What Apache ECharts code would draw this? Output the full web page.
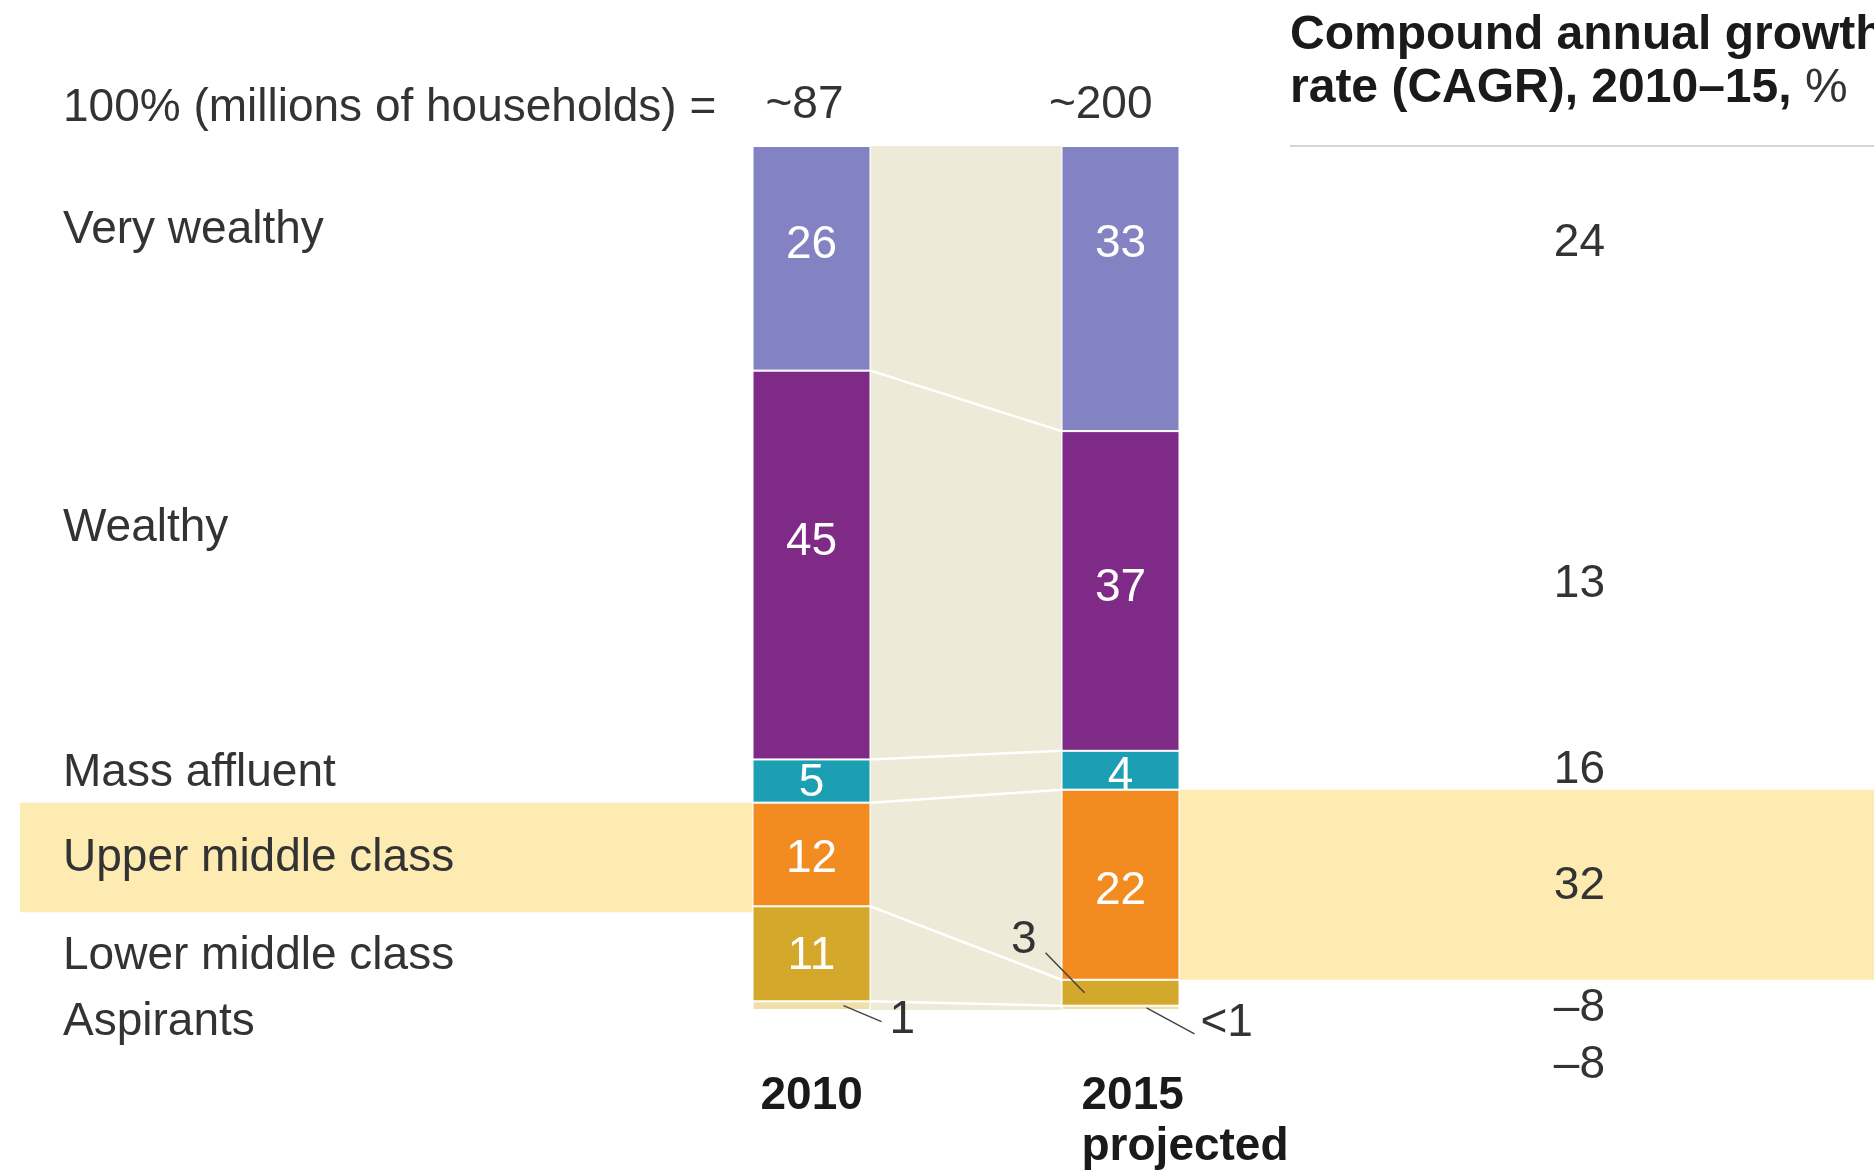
<!DOCTYPE html>
<html>
<head>
<meta charset="utf-8">
<style>
html, body { margin: 0; padding: 0; background: #fff; }
#chart { width: 1874px; height: 1172px; }
</style>
<script src="https://cdn.jsdelivr.net/npm/echarts@6/dist/echarts.min.js"></script>
</head>
<body>
<div id="chart"></div>
<script>
// 家庭财富分层 2010 vs 2015
var years = ['2010', '2015'];
var yearLabels = ['2010', '2015\nprojected'];
var totals = ['~87', '~200'];
var segments = ['Very wealthy', 'Wealthy', 'Mass affluent', 'Upper middle class', 'Lower middle class', 'Aspirants'];
var share2010 = [26, 45, 5, 12, 11, 1];
var share2015 = [33, 37, 4.5, 22, 3, 0.5];
var text2010 = ['26', '45', '5', '12', '11', '1'];
var text2015 = ['33', '37', '4', '22', '3', '<1'];
var cagr = [24, 13, 16, 32, -8, -8];

var myChart = echarts.init(document.getElementById('chart'));

var FONT = '"Liberation Sans", Arial, Helvetica, sans-serif';
var FS = 46;
var BAR_W = 118;
var TEXT_COLOR = '#333';
var colors = ['#8383c3', '#7f2a86', '#1d9fb3', '#f28b20', '#d4a82b', '#eee0a8'];
var HIGHLIGHT = 3; // Upper middle class row
var rowLabelNudge = [-28, -37, -8, 4, 2, 17];
var cagrNudge = [-45, -7, 0, 2, 16, 57];
var innerNudge = [[-13, -23, 2, 5, 2, 0], [-44, -3, 6, 7, 2, 0]];
var yearLabelNudge = [8, 20];
var CAGR_RIGHT = 1605;

var shares = [share2010, share2015];
var texts = [text2010, text2015];

function cumulative(arr) {
    var s = 0, out = [0];
    arr.forEach(function (v) { s += v; out.push(s); });
    return out;
}
var cums = shares.map(cumulative);

// callouts for the thin segments: anchor offset from bar centre, leader vector, text offset
var callouts = [
    { year: 0, seg: 5, ax: 32, dx: 38, dy: 16, tx: 8, ty: -1, align: 'left' },
    { year: 1, seg: 4, ax: -36, dx: -39, dy: -40, tx: -9, ty: -12, align: 'right' },
    { year: 1, seg: 5, ax: 26, dx: 48, dy: 26, tx: 6, ty: -11, align: 'left' }
];

function edges(api, yi) {
    var cx = api.coord([yi, 0])[0];
    return [cx - BAR_W / 2, cx + BAR_W / 2];
}
function yAt(api, v) {
    return api.coord([0, v])[1];
}
function txt(x, y, s, align, extra) {
    var style = {
        x: x, y: y, text: s, fill: TEXT_COLOR, fontSize: FS, fontFamily: FONT,
        align: align, verticalAlign: 'middle'
    };
    if (extra) for (var k in extra) style[k] = extra[k];
    return { type: 'text', style: style };
}
function fmtCagr(v) {
    return v < 0 ? '\u2013' + Math.abs(v) : String(v);
}

function renderBackdrop(params, api) {
    var e0 = edges(api, 0), e1 = edges(api, 1);
    var ch = [];
    var ly0 = yAt(api, cums[0][HIGHLIGHT]), ly1 = yAt(api, cums[0][HIGHLIGHT + 1]);
    ch.push({ type: 'rect', shape: { x: 20, y: ly0, width: e0[0] - 20, height: ly1 - ly0 + 6 }, style: { fill: '#fdebb2' } });
    var ry0 = yAt(api, cums[1][HIGHLIGHT]), ry1 = yAt(api, cums[1][HIGHLIGHT + 1]);
    ch.push({ type: 'rect', shape: { x: e1[1], y: ry0, width: api.getWidth() - e1[1], height: ry1 - ry0 }, style: { fill: '#fdebb2' } });
    var top = yAt(api, 0), bottom = yAt(api, 100);
    ch.push({ type: 'rect', shape: { x: e0[1], y: top, width: e1[0] - e0[1], height: bottom - top }, style: { fill: '#eeead8' } });
    for (var k = 1; k < segments.length; k++) {
        ch.push({
            type: 'line',
            shape: { x1: e0[1], y1: yAt(api, cums[0][k]), x2: e1[0], y2: yAt(api, cums[1][k]) },
            style: { stroke: '#fff', lineWidth: 2.5 }
        });
    }
    return { type: 'group', children: ch };
}

function renderAnnotations(params, api) {
    var e = [edges(api, 0), edges(api, 1)];
    var ch = [];
    segments.forEach(function (name, i) {
        var c0 = yAt(api, (cums[0][i] + cums[0][i + 1]) / 2);
        ch.push(txt(63, c0 + rowLabelNudge[i], name, 'left'));
        var c1 = yAt(api, (cums[1][i] + cums[1][i + 1]) / 2);
        ch.push(txt(CAGR_RIGHT, c1 + cagrNudge[i], fmtCagr(cagr[i]), 'right'));
    });
    var top = yAt(api, 0), bottom = yAt(api, 100);
    years.forEach(function (y, k) {
        ch.push(txt(e[k][1] - 27, top - 41, totals[k], 'right'));
        ch.push(txt(e[k][0] + yearLabelNudge[k], bottom + 61, yearLabels[k], 'left', {
            fontWeight: 'bold', verticalAlign: 'top', lineHeight: 51, fill: '#1a1a1a'
        }));
    });
    callouts.forEach(function (c) {
        var cx = api.coord([c.year, 0])[0] + c.ax;
        var cy = yAt(api, (cums[c.year][c.seg] + cums[c.year][c.seg + 1]) / 2);
        ch.push({
            type: 'line',
            shape: { x1: cx, y1: cy, x2: cx + c.dx, y2: cy + c.dy },
            style: { stroke: '#444', lineWidth: 1.5 }
        });
        ch.push(txt(cx + c.dx + c.tx, cy + c.dy + c.ty, texts[c.year][c.seg], c.align));
    });
    return { type: 'group', children: ch };
}

var barSeries = segments.map(function (name, i) {
    return {
        name: name,
        type: 'bar',
        stack: 'share',
        barWidth: BAR_W,
        z: 3,
        silent: true,
        data: shares.map(function (s, k) {
            return { value: s[i], label: { offset: [0, innerNudge[k][i]] } };
        }),
        itemStyle: { color: colors[i], borderColor: '#fff', borderWidth: 1 },
        label: {
            show: true,
            position: 'inside',
            color: '#fff',
            fontSize: FS,
            fontFamily: FONT,
            formatter: function (p) {
                return shares[p.dataIndex][i] >= 4 ? texts[p.dataIndex][i] : '';
            }
        }
    };
});

option = {
    backgroundColor: '#fff',
    animation: false,
    grid: { left: 657, right: 599, top: 146, bottom: 162 },
    xAxis: { type: 'category', data: years, show: false },
    yAxis: { type: 'value', min: 0, max: 100, inverse: true, show: false },
    graphic: [
        {
            type: 'text', left: 63, top: 108 - 27,
            style: { text: '100% (millions of households) =', fill: TEXT_COLOR, fontSize: FS, fontFamily: FONT, lineHeight: 54 }
        },
        {
            type: 'text', left: 1290, top: 40 - 28,
            style: {
                text: '{b|Compound annual growth}\n{b|rate (CAGR), 2010\u201315, }{r|%}',
                fontFamily: FONT,
                rich: {
                    b: { fontSize: 48, fontWeight: 'bold', fill: '#1a1a1a', color: '#1a1a1a', fontFamily: FONT, lineHeight: 53 },
                    r: { fontSize: 48, fill: TEXT_COLOR, color: TEXT_COLOR, fontFamily: FONT, lineHeight: 53 }
                }
            }
        },
        {
            type: 'line',
            shape: { x1: 1290, y1: 146, x2: 1874, y2: 146 },
            style: { stroke: '#d6d6d6', lineWidth: 2 }
        }
    ],
    series: [{
        type: 'custom',
        coordinateSystem: 'cartesian2d',
        z: 1,
        silent: true,
        data: [[0, 0]],
        renderItem: renderBackdrop
    }].concat(barSeries).concat([{
        type: 'custom',
        coordinateSystem: 'cartesian2d',
        z: 5,
        silent: true,
        data: [[0, 0]],
        renderItem: renderAnnotations
    }])
};

myChart.setOption(option);
window.addEventListener('resize', function () {
    myChart.resize();
});
</script>
</body>
</html>
